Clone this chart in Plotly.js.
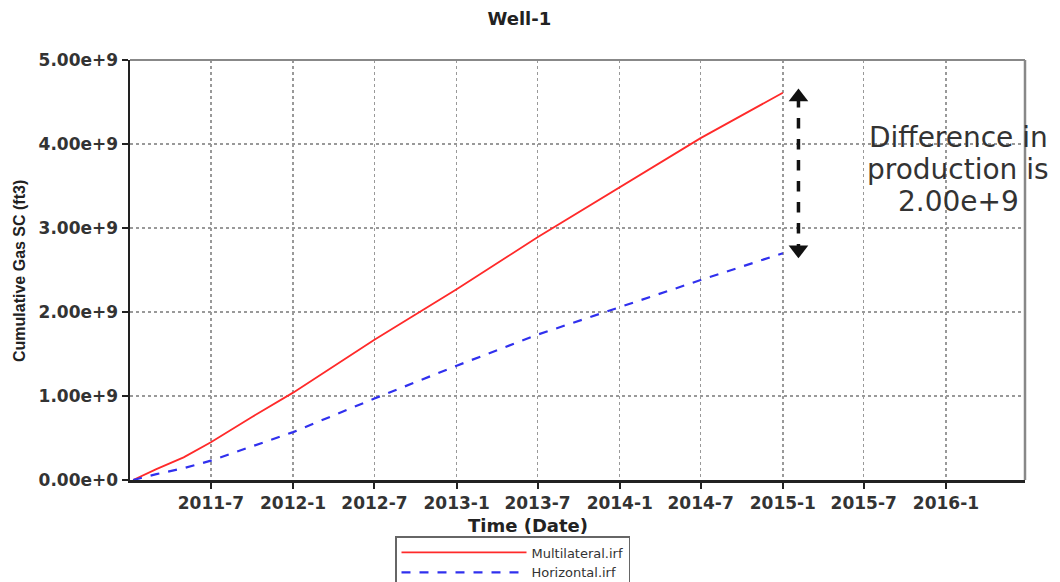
<!DOCTYPE html>
<html>
<head>
<meta charset="utf-8">
<script src="https://cdn.plot.ly/plotly-3.0.1.min.js"></script>
<style>html,body{margin:0;padding:0;background:#fff;}#chart{width:1060px;height:582px;}</style>
</head>
<body>
<div id="chart"></div>
<script>
// Data
const dates = ['2011-01-08','2011-03-01','2011-05-01','2011-07-01','2011-10-01','2012-01-01','2012-07-01','2013-01-01','2013-07-01','2014-01-01','2014-07-01','2015-01-01'];
const multilateral = [0, 0.13e9, 0.27e9, 0.45e9, 0.75e9, 1.04e9, 1.67e9, 2.27e9, 2.89e9, 3.49e9, 4.07e9, 4.61e9];
const horizontal   = [0, 0.07e9, 0.14e9, 0.23e9, 0.40e9, 0.57e9, 0.97e9, 1.36e9, 1.73e9, 2.06e9, 2.38e9, 2.70e9];
const seriesNames = ['Multilateral.irf', 'Horizontal.irf'];

const xTickVals = ['2011-07-01','2012-01-01','2012-07-01','2013-01-01','2013-07-01','2014-01-01','2014-07-01','2015-01-01','2015-07-01','2016-01-01'];
const xTickText = ['2011-7','2012-1','2012-7','2013-1','2013-7','2014-1','2014-7','2015-1','2015-7','2016-1'];
const yTickVals = [0, 1e9, 2e9, 3e9, 4e9, 5e9];
const yTickText = ['0.00e+0','1.00e+9','2.00e+9','3.00e+9','4.00e+9','5.00e+9'];

const arrowDates = ['2015-02-05','2015-02-05'];
const arrowValues = [4.56e9, 2.74e9];
const noteLines = ['Difference in', 'production is', '2.00e+9'];

const traces = [
  {x: dates, y: multilateral, name: seriesNames[0], mode: 'lines', type: 'scatter',
   line: {color: '#ff2a2a', width: 1.8}},
  {x: dates, y: horizontal, name: seriesNames[1], mode: 'lines', type: 'scatter',
   line: {color: '#3030ee', width: 2.2, dash: 'dash'}},
  {x: arrowDates, y: arrowValues, mode: 'lines+markers', type: 'scatter', showlegend: false, hoverinfo: 'skip',
   line: {color: '#111', width: 3.5, dash: 'dash'},
   marker: {symbol: ['triangle-up','triangle-down'], size: 17, color: '#111'}}
];

const wide = 'DejaVu Sans, Verdana, sans-serif';
const arial = 'Liberation Sans, Arial, sans-serif';
const plotTop = 60, plotBottom = 480, plotLeft = 130, plotRight = 1025;
const py = v => (plotBottom - v) / (plotBottom - plotTop);
const px = v => (v - plotLeft) / (plotRight - plotLeft);

const annotations = [
  {text: '<b>Time (Date)</b>', xref: 'paper', yref: 'paper', x: px(528), y: py(525), xanchor: 'center', yanchor: 'middle',
   showarrow: false, font: {size: 18, color: '#222', family: wide}},
  {text: '<b>Cumulative Gas SC (ft3)</b>', xref: 'paper', yref: 'paper', x: px(19), y: py(271), xanchor: 'center', yanchor: 'middle',
   textangle: -90, showarrow: false, font: {size: 16, color: '#222', family: arial}}
];
const lineY = [137, 169, 201];
noteLines.forEach((t, i) => annotations.push({
  text: t, xref: 'paper', yref: 'paper', x: px(958), y: py(lineY[i]), xanchor: 'center', yanchor: 'middle',
  showarrow: false, font: {size: 28, color: '#333', family: wide}
}));

const layout = {
  width: 1060, height: 582,
  margin: {l: 130, r: 35, t: 60, b: 102, autoexpand: false},
  paper_bgcolor: '#fff', plot_bgcolor: '#fff',
  font: {family: wide, color: '#333'},
  title: {text: '<b>Well-1</b>', x: 0.49, xref: 'container', y: 1 - 19/582, yanchor: 'middle', font: {size: 18, color: '#222', family: wide}},
  showlegend: true,
  legend: {x: px(395), xanchor: 'left', y: py(536), yanchor: 'top', orientation: 'v',
    bordercolor: '#666', borderwidth: 1.5, bgcolor: '#fff', itemwidth: 125,
    font: {size: 13, color: '#333', family: wide}, tracegroupgap: 0},
  xaxis: {
    type: 'date', range: ['2011-01-01','2016-06-26'],
    tickvals: xTickVals, ticktext: xTickText, tickangle: 0,
    tickfont: {size: 17, color: '#333', family: wide, weight: 'bold'},
    ticks: 'outside', ticklen: 6, tickwidth: 2, tickcolor: '#222',
    showline: true, linecolor: '#222', linewidth: 2.5,
    showgrid: true, gridcolor: '#999', griddash: 'dot', gridwidth: 1.5,
    zeroline: false, fixedrange: true, automargin: false
  },
  yaxis: {
    range: [0, 5e9],
    tickvals: yTickVals, ticktext: yTickText,
    tickfont: {size: 17, color: '#333', family: wide, weight: 'bold'},
    ticks: 'outside', ticklen: 6, tickwidth: 2, tickcolor: '#222',
    showline: true, linecolor: '#222', linewidth: 2.5,
    showgrid: true, gridcolor: '#999', griddash: 'dot', gridwidth: 1.5,
    zeroline: false, fixedrange: true, automargin: false
  },
  shapes: [
    {type: 'line', xref: 'paper', yref: 'paper', x0: 0, x1: 1, y0: 1, y1: 1, line: {color: '#888', width: 2}},
    {type: 'line', xref: 'paper', yref: 'paper', x0: 1, x1: 1, y0: 0, y1: 1, line: {color: '#888', width: 2.5}}
  ],
  annotations: annotations
};

Plotly.newPlot('chart', traces, layout, {staticPlot: true, displayModeBar: false});
</script>
</body>
</html>
